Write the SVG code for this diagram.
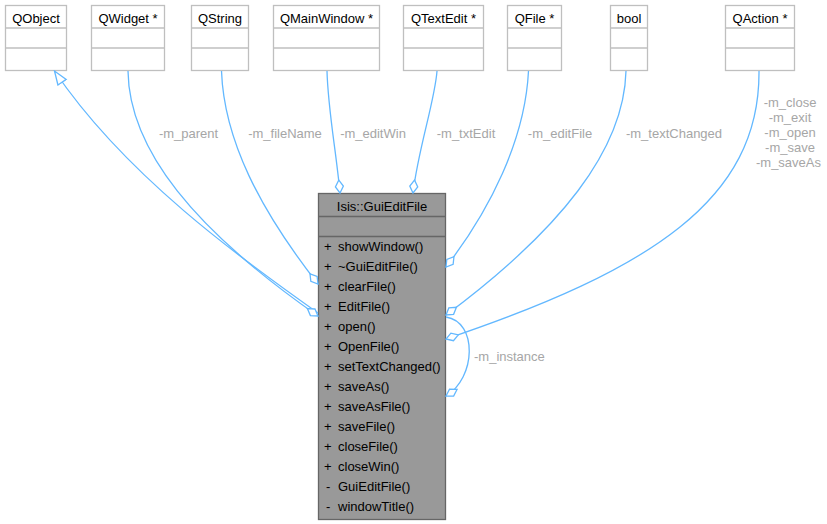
<svg xmlns="http://www.w3.org/2000/svg" width="827" height="524" viewBox="0 0 827 524">
<style>
text{font-family:"Liberation Sans",Arial,Helvetica,sans-serif;font-size:13px;fill:#000}
.c{text-anchor:middle}
.box{fill:#fff;stroke:#bfbfbf;stroke-width:1.3}
.main{fill:#999999;stroke:#666666;stroke-width:1.3}
.sep{stroke:#bfbfbf;stroke-width:1.3}
.msep{stroke:#666666;stroke-width:1.3}
.e{fill:none;stroke:#63b8ff;stroke-width:1.3}
.lbl{fill:#a6a6a6}
</style>
<defs>
<marker id="dia" markerUnits="userSpaceOnUse" markerWidth="16" markerHeight="10" refX="14" refY="5" orient="auto" viewBox="0 0 16 10">
<path d="M1,5 L7.5,1 L14,5 L7.5,9 Z" fill="#fff" stroke="#63b8ff" stroke-width="1.3"/>
</marker>
<marker id="tri" markerUnits="userSpaceOnUse" markerWidth="16" markerHeight="14" refX="14.5" refY="7" orient="auto" viewBox="0 0 16 14">
<path d="M1,2 L14.5,7 L1,12 Z" fill="#fff" stroke="#63b8ff" stroke-width="1.3"/>
</marker>
</defs>

<g id="node_QObject">
<rect class="box" x="5.5" y="5.5" width="61" height="65"/>
<line class="sep" x1="5.5" y1="28" x2="66.5" y2="28"/>
<line class="sep" x1="5.5" y1="48" x2="66.5" y2="48"/>
<text class="c" x="36" y="23">QObject</text>
</g>
<g id="node_QWidget">
<rect class="box" x="91.5" y="5.5" width="73" height="65"/>
<line class="sep" x1="91.5" y1="28" x2="164.5" y2="28"/>
<line class="sep" x1="91.5" y1="48" x2="164.5" y2="48"/>
<text class="c" x="128" y="23">QWidget *</text>
</g>
<g id="node_QString">
<rect class="box" x="191.5" y="5.5" width="57" height="65"/>
<line class="sep" x1="191.5" y1="28" x2="248.5" y2="28"/>
<line class="sep" x1="191.5" y1="48" x2="248.5" y2="48"/>
<text class="c" x="220" y="23">QString</text>
</g>
<g id="node_QMainWindow">
<rect class="box" x="273.5" y="5.5" width="106" height="65"/>
<line class="sep" x1="273.5" y1="28" x2="379.5" y2="28"/>
<line class="sep" x1="273.5" y1="48" x2="379.5" y2="48"/>
<text class="c" x="326.5" y="23">QMainWindow *</text>
</g>
<g id="node_QTextEdit">
<rect class="box" x="403.5" y="5.5" width="80" height="65"/>
<line class="sep" x1="403.5" y1="28" x2="483.5" y2="28"/>
<line class="sep" x1="403.5" y1="48" x2="483.5" y2="48"/>
<text class="c" x="443.5" y="23">QTextEdit *</text>
</g>
<g id="node_QFile">
<rect class="box" x="507.5" y="5.5" width="54" height="65"/>
<line class="sep" x1="507.5" y1="28" x2="561.5" y2="28"/>
<line class="sep" x1="507.5" y1="48" x2="561.5" y2="48"/>
<text class="c" x="534.5" y="23">QFile *</text>
</g>
<g id="node_bool">
<rect class="box" x="610.5" y="5.5" width="37" height="65"/>
<line class="sep" x1="610.5" y1="28" x2="647.5" y2="28"/>
<line class="sep" x1="610.5" y1="48" x2="647.5" y2="48"/>
<text class="c" x="629" y="23">bool</text>
</g>
<g id="node_QAction">
<rect class="box" x="725.5" y="5.5" width="69" height="65"/>
<line class="sep" x1="725.5" y1="28" x2="794.5" y2="28"/>
<line class="sep" x1="725.5" y1="48" x2="794.5" y2="48"/>
<text class="c" x="760" y="23">QAction *</text>
</g>

<g id="node_GuiEditFile">
<rect class="main" x="318.5" y="193.5" width="127" height="326"/>
<line class="msep" x1="318.5" y1="216.5" x2="445.5" y2="216.5"/>
<line class="msep" x1="318.5" y1="236.5" x2="445.5" y2="236.5"/>
<text class="c" x="382" y="210.5">Isis::GuiEditFile</text>
<text x="324" y="251.3">+</text><text x="338" y="251.3">showWindow()</text>
<text x="324" y="271.3">+</text><text x="338" y="271.3">~GuiEditFile()</text>
<text x="324" y="291.3">+</text><text x="338" y="291.3">clearFile()</text>
<text x="324" y="311.3">+</text><text x="338" y="311.3">EditFile()</text>
<text x="324" y="331.3">+</text><text x="338" y="331.3">open()</text>
<text x="324" y="351.3">+</text><text x="338" y="351.3">OpenFile()</text>
<text x="324" y="371.3">+</text><text x="338" y="371.3">setTextChanged()</text>
<text x="324" y="391.3">+</text><text x="338" y="391.3">saveAs()</text>
<text x="324" y="411.3">+</text><text x="338" y="411.3">saveAsFile()</text>
<text x="324" y="431.3">+</text><text x="338" y="431.3">saveFile()</text>
<text x="324" y="451.3">+</text><text x="338" y="451.3">closeFile()</text>
<text x="324" y="471.3">+</text><text x="338" y="471.3">closeWin()</text>
<text x="326" y="491.3">-</text><text x="338" y="491.3">GuiEditFile()</text>
<text x="326" y="511.3">-</text><text x="338" y="511.3">windowTitle()</text>
</g>

<g id="connectors">
<path class="e" d="M318,313 C240,258 125,175 54.5,71" marker-end="url(#tri)"/>
<path class="e" d="M128,71 C129,150 195,230 318,316" marker-end="url(#dia)"/>
<text class="lbl c" x="188.5" y="137.5">-m_parent</text>
<path class="e" d="M221.5,71 C224,140 260,210 318,284" marker-end="url(#dia)"/>
<text class="lbl c" x="285" y="137.5">-m_fileName</text>
<path class="e" d="M327,71 C328,110 336,150 340,193" marker-end="url(#dia)"/>
<text class="lbl c" x="373" y="137.5">-m_editWin</text>
<path class="e" d="M437,71 C435,100 418,150 413,193" marker-end="url(#dia)"/>
<text class="lbl c" x="466" y="137.5">-m_txtEdit</text>
<path class="e" d="M528.5,71 C525,140 490,210 446,267" marker-end="url(#dia)"/>
<text class="lbl c" x="560" y="137.5">-m_editFile</text>
<path class="e" d="M626,71 C624,150 560,230 446,315" marker-end="url(#dia)"/>
<text class="lbl c" x="674" y="137.5">-m_textChanged</text>
<path class="e" d="M759,71 C760,200 650,270 446,339" marker-end="url(#dia)"/>
<text class="lbl c" x="790" y="107.3">-m_close</text>
<text class="lbl c" x="790" y="122.3">-m_exit</text>
<text class="lbl c" x="790" y="137.3">-m_open</text>
<text class="lbl c" x="790" y="152.3">-m_save</text>
<text class="lbl c" x="788.5" y="167.3">-m_saveAs</text>
<path class="e" d="M446,317 C478,322 476,378 446,396" marker-end="url(#dia)"/>
<text class="lbl" x="474" y="361">-m_instance</text>
</g>
</svg>
